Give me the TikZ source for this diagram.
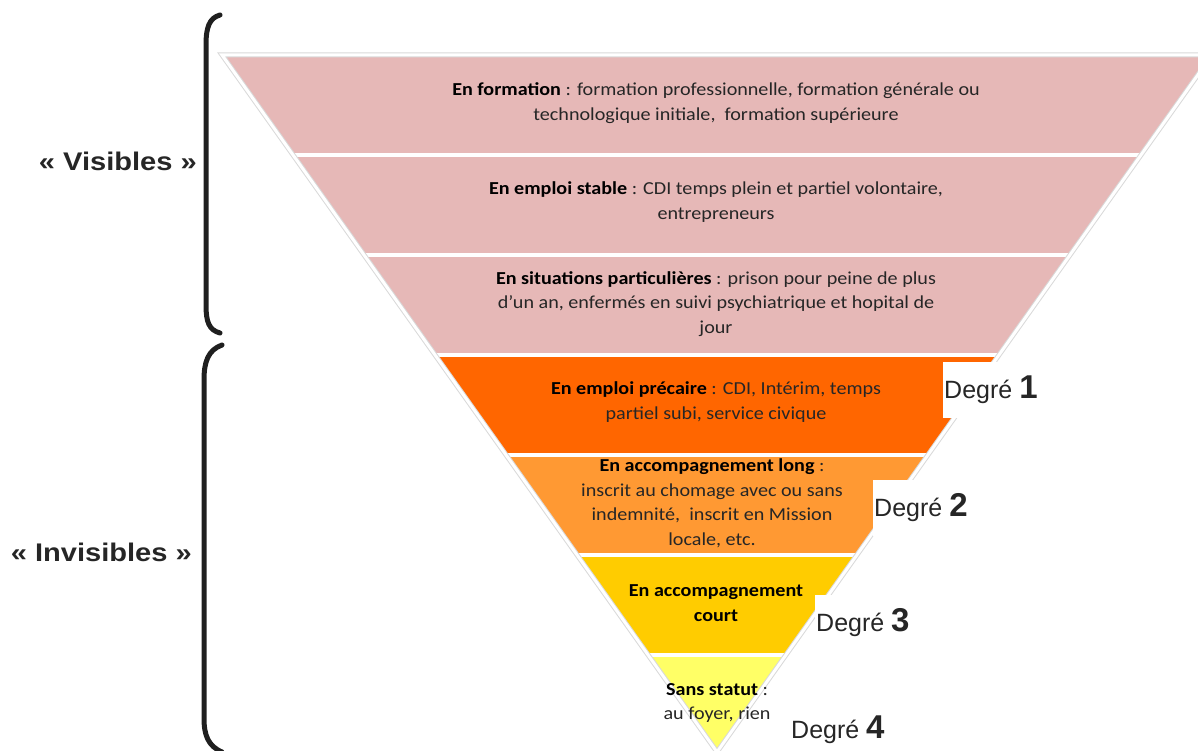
\documentclass[tikz,border=0pt]{standalone}
\usepackage{fontspec}
\setmainfont{Carlito}[FakeStretch=1.1]
\newfontfamily\arialfont{Liberation Sans}
\newfontfamily\arialwide{Liberation Sans}[FakeStretch=1.14]
\definecolor{pinkband}{HTML}{E6B8B7}
\definecolor{orangeband}{HTML}{FF6600}
\definecolor{lorangeband}{HTML}{FF9933}
\definecolor{goldband}{HTML}{FFCC00}
\definecolor{yellowband}{HTML}{FFFF66}
\definecolor{txt}{HTML}{262626}
\begin{document}
\begin{tikzpicture}[x=1pt,y=-1pt,
  bandtext/.style={align=center, text=txt, inner sep=0pt, font=\fontsize{18.3}{24.5}\selectfont},
  degree/.style={fill=white, anchor=west, inner xsep=1pt, inner ysep=0pt, minimum height=56pt, font=\arialfont\fontsize{25}{25}\selectfont, text=txt},
  brace/.style={line width=5pt, draw=black!88, line cap=round},
  grouplabel/.style={font=\arialwide\bfseries\fontsize{25.5}{26}\selectfont, text=txt, inner sep=0pt}]
\useasboundingbox (0,0) rectangle (1198,751);
\coordinate (TL) at (222,55);
\coordinate (TR) at (1212,55);
\coordinate (TIP) at (717,752);
\begin{scope}
  \clip (TL) -- (TR) -- (TIP) -- cycle;
  \fill[pinkband] (0,50) rectangle (1300,355);
  \fill[orangeband] (0,355) rectangle (1300,455);
  \fill[lorangeband] (0,455) rectangle (1300,555);
  \fill[goldband] (0,555) rectangle (1300,655);
  \fill[yellowband] (0,655) rectangle (1300,760);
  \foreach \y in {155,255,355,455,555,655}
    \draw[white, line width=3.5pt] (0,\y) -- (1300,\y);
\end{scope}
\draw[black!15, line width=5pt, line join=miter] (TL) -- (TR) -- (TIP) -- cycle;
\draw[white, line width=3pt, line join=miter] (TL) -- (TR) -- (TIP) -- cycle;

\node[bandtext] (b1) at (716,103) {\textbf{\color{black}En formation} : formation professionnelle, formation générale ou\\technologique initiale,\ \ formation supérieure};
\node[bandtext] (b2) at (716,202) {\textbf{\color{black}En emploi stable} : CDI temps plein et partiel volontaire,\\entrepreneurs};
\node[bandtext] (b3) at (716,304) {\textbf{\color{black}En situations\ particulières} : prison pour peine de plus\\d'un an, enfermés en suivi psychiatrique et hopital de\\jour};
\node[bandtext] (b4) at (716,402) {\textbf{\color{black}En emploi précaire} : CDI, Intérim, temps\\partiel subi, service civique};
\node[bandtext] (b5) at (712,503) {\textbf{\color{black}En accompagnement long} :\\inscrit au chomage avec ou sans\\indemnité,\ \ inscrit en Mission\\locale, etc.};
\node[bandtext] (b6) at (716,603) {\textbf{\color{black}En accompagnement}\\\textbf{\color{black}court}};
\node[bandtext] (b7) at (717,703) {\textbf{\color{black}Sans statut} :\\au foyer, rien};

\node[degree] (d1) at (943,390) {Degré {\bfseries\fontsize{33}{33}\selectfont 1}};
\node[degree] (d2) at (873,508) {Degré {\bfseries\fontsize{33}{33}\selectfont 2}};
\node[degree] (d3) at (815,623) {Degré {\bfseries\fontsize{33}{33}\selectfont 3}};
\node[degree, fill=none] (d4) at (790,730) {Degré {\bfseries\fontsize{33}{33}\selectfont 4}};

\draw[brace] (220,15) .. controls (209,18) and (206,28) .. (206,45) -- (206,305) .. controls (206,322) and (209,330) .. (220,333);
\draw[brace] (222,345) .. controls (208,350) and (204,362) .. (204,380) -- (204,718) .. controls (204,735) and (208,746) .. (222,752);

\node[grouplabel, anchor=east] (vis) at (197,161) {«~Visibles~»};
\node[grouplabel, anchor=east] (invis) at (192,552) {«~Invisibles~»};
\end{tikzpicture}
\end{document}
